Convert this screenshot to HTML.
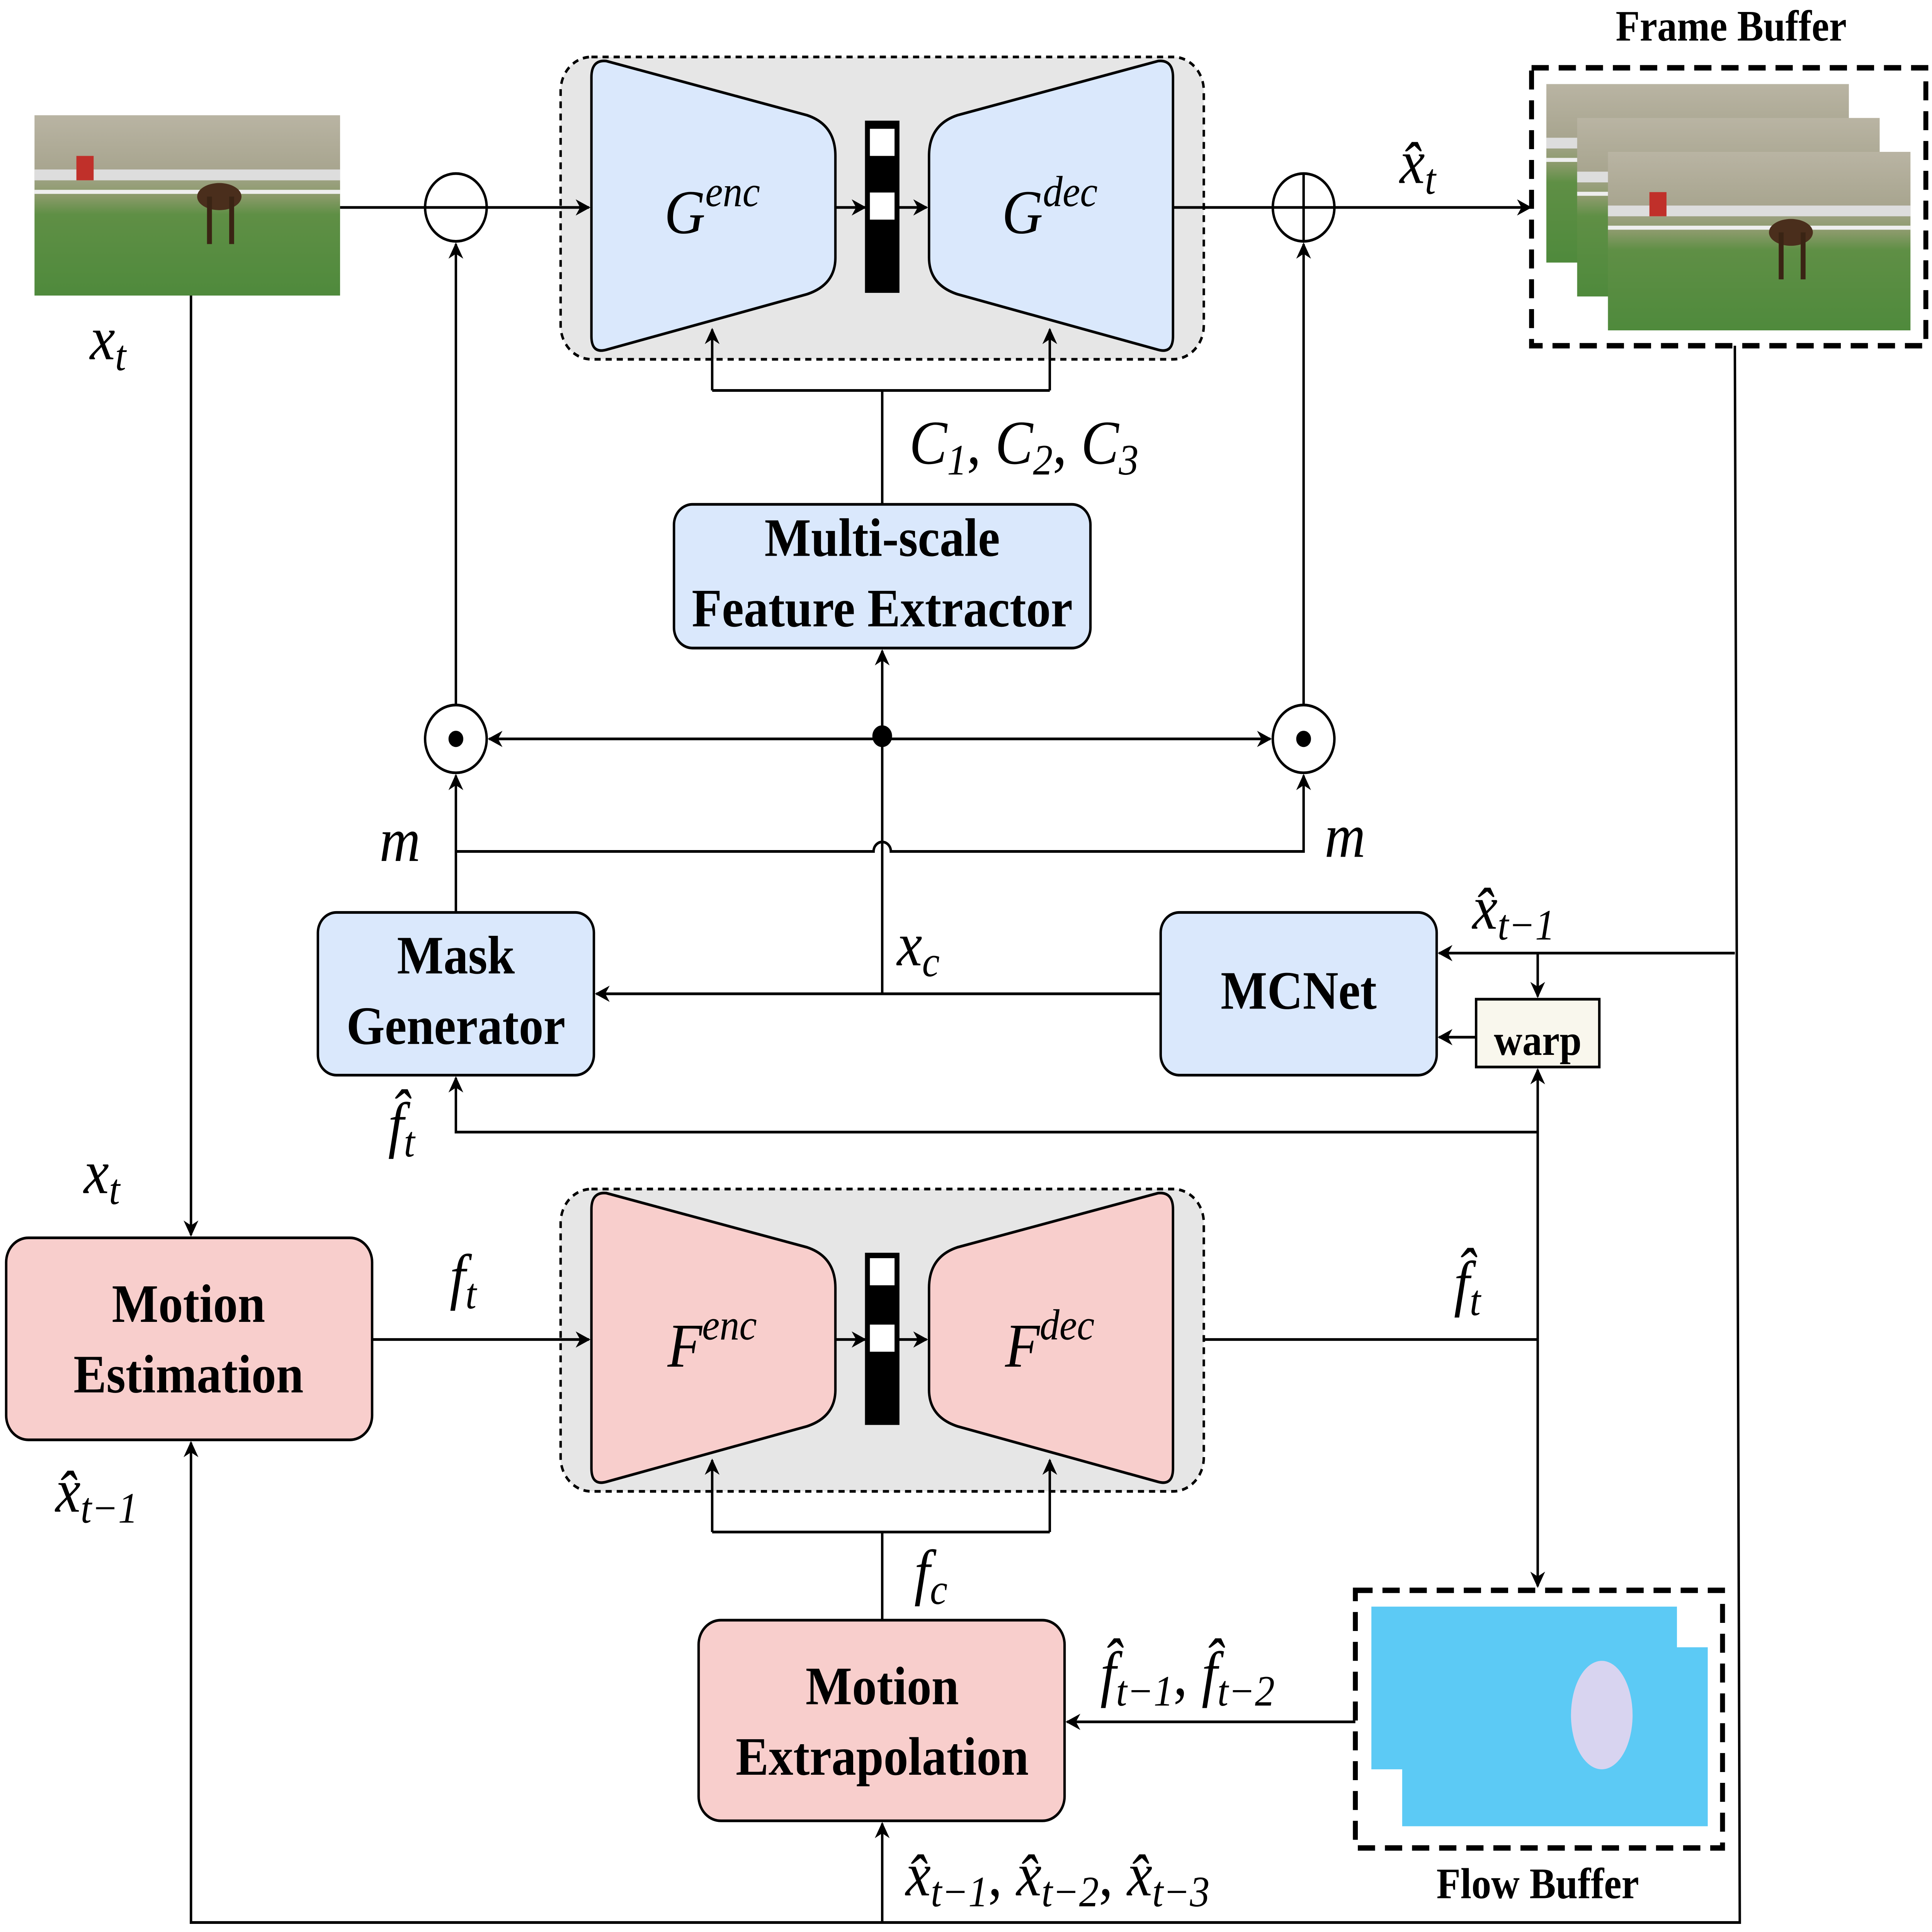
<!DOCTYPE html>
<html><head><meta charset="utf-8"><style>
html,body{margin:0;padding:0;background:#fff;overflow:hidden;width:100%;height:100%;}
svg{display:block;position:absolute;left:0;top:0;width:100vw;height:100vh;}
.m{font-family:"Liberation Serif",serif;font-style:italic;}
.b{font-family:"Liberation Serif",serif;font-weight:bold;}
</style></head><body>
<svg viewBox="0 0 1568 1425" preserveAspectRatio="none" xmlns="http://www.w3.org/2000/svg">
<defs>
<marker id="a" viewBox="0 0 10 10" refX="9" refY="5" markerWidth="12" markerHeight="12" orient="auto-start-reverse" markerUnits="userSpaceOnUse">
<path d="M0,0 L10,5 L0,10 L3,5 Z" fill="#000"/></marker>
<linearGradient id="ph" x1="0" y1="0" x2="0" y2="1">
<stop offset="0" stop-color="#b9b4a3"/><stop offset="0.3" stop-color="#a8a58f"/><stop offset="0.45" stop-color="#8a9a6a"/><stop offset="0.55" stop-color="#5f8f45"/><stop offset="1" stop-color="#4f8a3c"/></linearGradient>
<g id="photo"><rect width="248" height="133" fill="url(#ph)"/><rect y="40" width="248" height="8" fill="#ddd"/><rect y="55" width="248" height="3" fill="#eee"/><ellipse cx="150" cy="60" rx="18" ry="10" fill="#4a2e1c"/><rect x="140" y="60" width="4" height="35" fill="#3a2414"/><rect x="158" y="60" width="4" height="35" fill="#3a2414"/><rect x="34" y="30" width="14" height="18" fill="#c0302a"/></g>
</defs>
<g stroke="#000" stroke-width="2" fill="none">
<rect x="455" y="42" width="522" height="223" rx="25" fill="#e6e6e6" stroke-dasharray="5,4"/>
<path d="M492,45 L655,85 Q678,92 678,115 L678,190 Q678,210 655,217 L492,258 Q480,261 480,248 L480,57 Q480,44 492,45 Z" fill="#dae8fc"/>
<path d="M940,45 L777,85 Q754,92 754,115 L754,190 Q754,210 777,217 L940,258 Q952,261 952,248 L952,57 Q952,44 940,45 Z" fill="#dae8fc"/>
<rect x="703" y="90" width="26" height="125" fill="#000"/>
<rect x="706" y="95" width="20" height="20" fill="#fff" stroke="none"/>
<rect x="706" y="142" width="20" height="20" fill="#fff" stroke="none"/>
<line x1="678" y1="153" x2="702" y2="153" marker-end="url(#a)"/>
<line x1="729" y1="153" x2="752" y2="153" marker-end="url(#a)"/>
<polyline points="578,288 852,288"/>
<line x1="578" y1="288" x2="578" y2="243" marker-end="url(#a)"/>
<line x1="852" y1="288" x2="852" y2="243" marker-end="url(#a)"/>
<line x1="716" y1="288" x2="716" y2="372"/>
<rect x="547" y="372" width="338" height="106" rx="15" fill="#dae8fc"/>
<rect x="455" y="877" width="522" height="223" rx="25" fill="#e6e6e6" stroke-dasharray="5,4"/>
<path d="M492,880 L655,920 Q678,927 678,950 L678,1025 Q678,1045 655,1052 L492,1093 Q480,1096 480,1083 L480,892 Q480,879 492,880 Z" fill="#f8cecc"/>
<path d="M940,880 L777,920 Q754,927 754,950 L754,1025 Q754,1045 777,1052 L940,1093 Q952,1096 952,1083 L952,892 Q952,879 940,880 Z" fill="#f8cecc"/>
<rect x="703" y="925" width="26" height="125" fill="#000"/>
<rect x="706" y="928" width="20" height="20" fill="#fff" stroke="none"/>
<rect x="706" y="977" width="20" height="20" fill="#fff" stroke="none"/>
<line x1="678" y1="988" x2="702" y2="988" marker-end="url(#a)"/>
<line x1="729" y1="988" x2="752" y2="988" marker-end="url(#a)"/>
<polyline points="578,1130 852,1130"/>
<line x1="578" y1="1130" x2="578" y2="1077" marker-end="url(#a)"/>
<line x1="852" y1="1130" x2="852" y2="1077" marker-end="url(#a)"/>
<line x1="716" y1="1130" x2="716" y2="1195"/>
<rect x="258" y="673" width="224" height="120" rx="15" fill="#dae8fc"/>
<rect x="942" y="673" width="224" height="120" rx="15" fill="#dae8fc"/>
<rect x="1198" y="737" width="100" height="50" fill="#f9f7ed"/>
<rect x="5" y="913" width="297" height="149" rx="18" fill="#f8cecc"/>
<rect x="567" y="1195" width="297" height="148" rx="18" fill="#f8cecc"/>
<circle cx="370" cy="153" r="25" fill="#fff"/><line x1="345" y1="153" x2="395" y2="153"/>
<circle cx="1058" cy="153" r="25" fill="#fff"/><line x1="1033" y1="153" x2="1083" y2="153"/><line x1="1058" y1="128" x2="1058" y2="178"/>
<circle cx="370" cy="545" r="25" fill="#fff"/><circle cx="370" cy="545" r="5" fill="#000"/>
<circle cx="1058" cy="545" r="25" fill="#fff"/><circle cx="1058" cy="545" r="5" fill="#000"/>
<line x1="276" y1="153" x2="345" y2="153"/>
<line x1="395" y1="153" x2="478" y2="153" marker-end="url(#a)"/>
<line x1="952" y1="153" x2="1033" y2="153"/>
<line x1="1083" y1="153" x2="1242" y2="153" marker-end="url(#a)"/>
<line x1="716" y1="545" x2="716" y2="480" marker-end="url(#a)"/>
<line x1="716" y1="545" x2="397" y2="545" marker-end="url(#a)"/>
<line x1="716" y1="545" x2="1031" y2="545" marker-end="url(#a)"/>
<circle cx="716" cy="543" r="7" fill="#000"/>
<line x1="370" y1="520" x2="370" y2="180" marker-end="url(#a)"/>
<line x1="1058" y1="520" x2="1058" y2="180" marker-end="url(#a)"/>
<path d="M370,628 L709,628 A7,7 0 0 1 723,628 L1058,628 L1058,572" marker-end="url(#a)"/>
<line x1="370" y1="673" x2="370" y2="572" marker-end="url(#a)"/>
<line x1="716" y1="733" x2="716" y2="545"/>
<line x1="942" y1="733" x2="484" y2="733" marker-end="url(#a)"/>
<line x1="1198" y1="765" x2="1168" y2="765" marker-end="url(#a)"/>
<polyline points="1408,255 1412,1418 155,1418 155,1064" marker-end="url(#a)"/>
<line x1="1408" y1="703" x2="1168" y2="703" marker-end="url(#a)"/>
<line x1="1248" y1="703" x2="1248" y2="735" marker-end="url(#a)"/>
<line x1="1248" y1="988" x2="1248" y2="789" marker-end="url(#a)"/>
<line x1="1248" y1="988" x2="1248" y2="1170" marker-end="url(#a)"/>
<polyline points="1248,835 370,835 370,795" marker-end="url(#a)"/>
<line x1="155" y1="217" x2="155" y2="911" marker-end="url(#a)"/>
<line x1="302" y1="988" x2="478" y2="988" marker-end="url(#a)"/>
<line x1="977" y1="988" x2="1248" y2="988"/>
<line x1="716" y1="1418" x2="716" y2="1345" marker-end="url(#a)"/>
<line x1="1100" y1="1270" x2="866" y2="1270" marker-end="url(#a)"/>
</g>
<use href="#photo" x="28" y="85"/>
<use href="#photo" x="1255" y="62" transform="translate(1255,62) scale(0.99) translate(-1255,-62)"/>
<use href="#photo" x="1280" y="87" transform="translate(1280,87) scale(0.99) translate(-1280,-87)"/>
<use href="#photo" x="1305" y="112" transform="translate(1305,112) scale(0.99) translate(-1305,-112)"/>
<rect x="1243" y="50" width="320" height="205" fill="none" stroke="#000" stroke-width="4" stroke-dasharray="14,8"/>
<rect x="1113" y="1185" width="248" height="120" fill="#5ccaf5"/>
<rect x="1138" y="1215" width="248" height="132" fill="#5ccaf5"/>
<ellipse cx="1300" cy="1265" rx="25" ry="40" fill="#d8d4f0"/>
<rect x="1100" y="1173" width="298" height="190" fill="none" stroke="#000" stroke-width="4" stroke-dasharray="14,8"/>
<g font-size="46" class="m" text-anchor="middle">
<text x="578" y="172">G<tspan font-size="32" dy="-20">enc</tspan></text>
<text x="852" y="172">G<tspan font-size="32" dy="-20">dec</tspan></text>
<text x="578" y="1008">F<tspan font-size="32" dy="-20">enc</tspan></text>
<text x="852" y="1008">F<tspan font-size="32" dy="-20">dec</tspan></text>
</g>
<g font-size="46" class="m">
<text x="73" y="265">x<tspan font-size="32" dy="8">t</tspan></text>
<text x="68" y="880">x<tspan font-size="32" dy="8">t</tspan></text>
<text x="738" y="342">C<tspan font-size="32" dy="8">1</tspan><tspan dy="-8" font-style="normal">, </tspan>C<tspan font-size="32" dy="8">2</tspan><tspan dy="-8" font-style="normal">, </tspan>C<tspan font-size="32" dy="8">3</tspan></text>
<text x="1136" y="135">x̂<tspan font-size="32" dy="8">t</tspan></text>
<text x="308" y="635">m</text>
<text x="1075" y="632">m</text>
<text x="728" y="712">x<tspan font-size="32" dy="8">c</tspan></text>
<text x="1195" y="685">x̂<tspan font-size="32" dy="8">t−1</tspan></text>
<text x="315" y="845">f̂<tspan font-size="32" dy="8">t</tspan></text>
<text x="365" y="957">f<tspan font-size="32" dy="8">t</tspan></text>
<text x="1180" y="962">f̂<tspan font-size="32" dy="8">t</tspan></text>
<text x="742" y="1175">f<tspan font-size="32" dy="8">c</tspan></text>
<text x="45" y="1115">x̂<tspan font-size="32" dy="8">t−1</tspan></text>
<text x="893" y="1250">f̂<tspan font-size="32" dy="8">t−1</tspan><tspan dy="-8" font-style="normal">, </tspan>f̂<tspan font-size="32" dy="8">t−2</tspan></text>
<text x="735" y="1398">x̂<tspan font-size="32" dy="8">t−1</tspan><tspan dy="-8" font-style="normal">, </tspan>x̂<tspan font-size="32" dy="8">t−2</tspan><tspan dy="-8" font-style="normal">, </tspan>x̂<tspan font-size="32" dy="8">t−3</tspan></text>
</g>
<g class="b" text-anchor="middle" font-size="40">
<text x="716" y="410">Multi-scale</text>
<text x="716" y="462">Feature Extractor</text>
<text x="370" y="718">Mask</text>
<text x="370" y="770">Generator</text>
<text x="1054" y="744">MCNet</text>
<text x="153" y="975">Motion</text>
<text x="153" y="1027">Estimation</text>
<text x="716" y="1257">Motion</text>
<text x="716" y="1309">Extrapolation</text>
<text x="1248" y="778" font-size="32">warp</text>
<text x="1405" y="30" font-size="32">Frame Buffer</text>
<text x="1248" y="1400" font-size="32">Flow Buffer</text>
</g>
</svg>
</body></html>
